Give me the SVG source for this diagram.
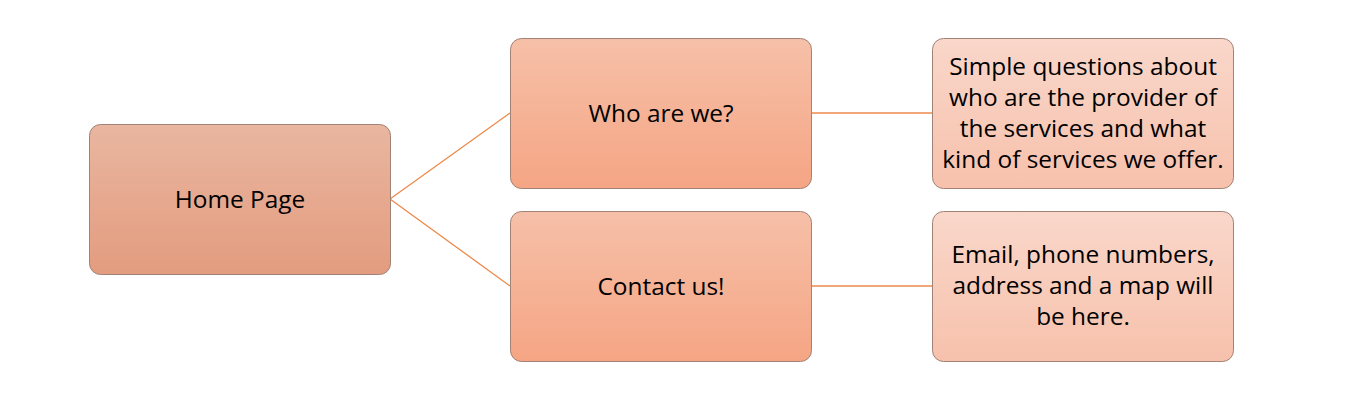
<svg xmlns="http://www.w3.org/2000/svg" width="1355" height="403" viewBox="0 0 1355 403">
<defs>
<linearGradient id="gHome" x1="0" y1="0" x2="0" y2="1"><stop offset="0" stop-color="#e9b6a0"/><stop offset="1" stop-color="#e39c7f"/></linearGradient>
<linearGradient id="gMid" x1="0" y1="0" x2="0" y2="1"><stop offset="0" stop-color="#f6c0a8"/><stop offset="1" stop-color="#f5a584"/></linearGradient>
<linearGradient id="gDesc" x1="0" y1="0" x2="0" y2="1"><stop offset="0" stop-color="#f9d7ca"/><stop offset="1" stop-color="#f7c1ac"/></linearGradient>
</defs>
<style>
.box{stroke:#a08276;stroke-width:1}
.t{font-family:"Open Sans","Noto Sans","Liberation Sans",sans-serif;font-size:24.4px;fill:#000;text-anchor:middle}
.c{stroke:#ed8a4b;stroke-width:1.3;fill:none}
</style>
<rect width="1355" height="403" fill="#fff"/>
<g id="connectors">
<line class="c" x1="390" y1="199" x2="510" y2="113"/>
<line class="c" x1="390" y1="199" x2="510" y2="286"/>
<line class="c" x1="811" y1="113" x2="932" y2="113"/>
<line class="c" x1="811" y1="286" x2="932" y2="286"/>
</g>
<g id="home"><rect class="box" x="89.5" y="124.5" width="301" height="150" rx="11" fill="url(#gHome)"/><text class="t" x="240" y="207.5">Home Page</text></g>
<g id="who"><rect class="box" x="510.5" y="38.5" width="301" height="150" rx="11" fill="url(#gMid)"/><text class="t" x="661" y="121.5">Who are we?</text></g>
<g id="contact"><rect class="box" x="510.5" y="211.5" width="301" height="150" rx="11" fill="url(#gMid)"/><text class="t" x="661" y="294.5">Contact us!</text></g>
<g id="desc1"><rect class="box" x="932.5" y="38.5" width="301" height="150" rx="11" fill="url(#gDesc)"/>
<text class="t" x="1083" y="74.5">Simple questions about</text>
<text class="t" x="1083" y="105.5">who are the provider of</text>
<text class="t" x="1083" y="136.5">the services and what</text>
<text class="t" x="1083" y="167.5">kind of services we offer.</text></g>
<g id="desc2"><rect class="box" x="932.5" y="211.5" width="301" height="150" rx="11" fill="url(#gDesc)"/>
<text class="t" x="1083" y="262.5">Email, phone numbers,</text>
<text class="t" x="1083" y="293.5">address and a map will</text>
<text class="t" x="1083" y="324.5">be here.</text></g>
</svg>
